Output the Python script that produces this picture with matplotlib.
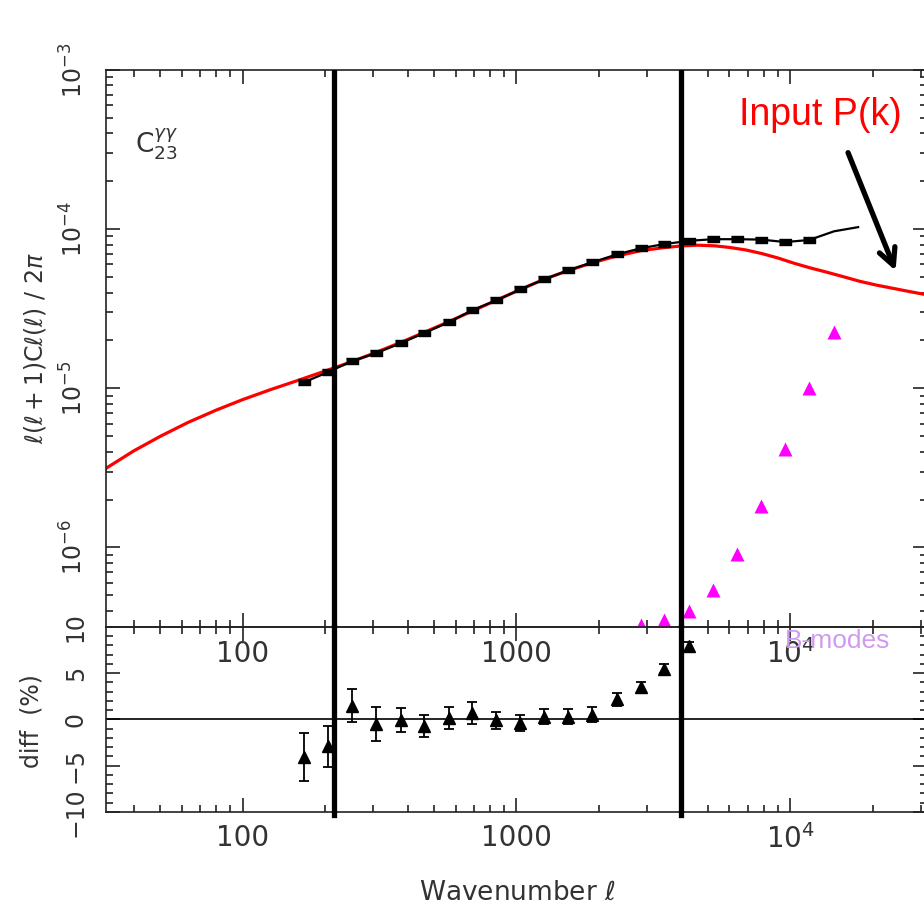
import numpy as np
import matplotlib
matplotlib.use("Agg")
import matplotlib.pyplot as plt
from matplotlib.ticker import LogLocator, MultipleLocator, NullFormatter

plt.rcParams['font.family'] = 'DejaVu Sans'
plt.rcParams['mathtext.fontset'] = 'dejavusans'

# log-spaced multipole bins
ell_bins = [167, 204, 250, 306, 377, 458, 565, 690, 845, 1034, 1265, 1549,
            1893, 2337, 2860, 3470, 4276, 5236, 6409, 7839, 9590, 11730, 14480, 17720]

# measured l(l+1)C_l/2pi, black
cl_meas = [1.09e-5, 1.26e-5, 1.48e-5, 1.66e-5, 1.92e-5, 2.22e-5, 2.60e-5, 3.10e-5,
           3.57e-5, 4.19e-5, 4.85e-5, 5.52e-5, 6.19e-5, 6.96e-5, 7.60e-5, 8.06e-5,
           8.45e-5, 8.65e-5, 8.65e-5, 8.60e-5, 8.30e-5, 8.55e-5, 9.70e-5, 1.03e-4]

# input P(k) prediction, red
ell_theory = [31.6, 40, 50, 63, 80, 100, 126, 160, 204, 250, 306, 377, 458, 565,
              690, 845, 1034, 1265, 1549, 1893, 2337, 2860, 3470, 4000, 4600, 5300,
              6000, 6900, 7900, 9000, 10300, 11800, 13600, 15700, 18000, 20700,
              23750, 27400, 31600]
cl_theory = [3.14e-6, 4.05e-6, 5.0e-6, 6.1e-6, 7.3e-6, 8.5e-6, 9.8e-6, 1.125e-5,
             1.30e-5, 1.47e-5, 1.68e-5, 1.94e-5, 2.24e-5, 2.62e-5, 3.06e-5, 3.58e-5,
             4.18e-5, 4.85e-5, 5.5e-5, 6.15e-5, 6.8e-5, 7.34e-5, 7.66e-5, 7.85e-5,
             7.93e-5, 7.86e-5, 7.68e-5, 7.4e-5, 7.02e-5, 6.6e-5, 6.12e-5, 5.72e-5,
             5.37e-5, 5.02e-5, 4.7e-5, 4.45e-5, 4.25e-5, 4.05e-5, 3.87e-5]

# B-mode power in the same bins
ell_bmode = [2860, 3470, 4276, 5236, 6409, 7839, 9590, 11730, 14480]
cl_bmode = [3.28e-7, 3.48e-7, 3.96e-7, 5.44e-7, 9.04e-7, 1.81e-6, 4.13e-6, 1.01e-5, 2.25e-5]

# percentage difference measured vs input
ell_diff = ell_bins[:17]
diff_val = [-4.1, -2.9, 1.5, -0.5, -0.1, -0.7, 0.2, 0.7, -0.1, -0.4, 0.3, 0.3, 0.5,
            2.2, 3.5, 5.5, 7.9]
diff_err = [2.6, 2.2, 1.8, 1.8, 1.3, 1.2, 1.2, 1.2, 0.9, 0.9, 0.8, 0.8, 0.8,
            0.7, 0.6, 0.5, 0.5]

ell_cuts = [215, 4000]

tick_col = '#333333'
dash = [(-1, -0.5), (1, -0.5), (1, 0.5), (-1, 0.5)]

fig = plt.figure(figsize=(9.24, 9.06), dpi=100)
ax1 = fig.add_axes([0.1147, 0.3079, 0.8885, 0.6148])
ax2 = fig.add_axes([0.1147, 0.1038, 0.8885, 0.2042])
ax2.set_facecolor('none')

# --- top panel ---
ax1.plot(ell_theory, cl_theory, color='red', lw=2.3, zorder=2)
ax1.plot(ell_bins, cl_meas, color='black', lw=1.6, zorder=3)
ax1.plot(ell_bins[:22], cl_meas[:22], ls='none', marker=dash, ms=8,
         color='black', zorder=3)
ax1.plot(ell_bmode, cl_bmode, ls='none', marker='^', ms=10, color='#ff00ff',
         mec='none', zorder=3)
ax1.set_xscale('log')
ax1.set_yscale('log')
ax1.set_xlim(10**1.5, 10**4.5)
ax1.set_ylim(10**-6.5, 1e-3)

for xc in ell_cuts:
    ax1.axvline(xc, ymin=0, ymax=0.996, color='black', lw=3.8, zorder=4)
    ax2.axvline(xc, ymin=-0.015, ymax=1, color='black', lw=3.8, zorder=4,
                clip_on=False)

ax1.text(0.035, 0.867, r'$\mathrm{C}^{\gamma\gamma}_{23}$', transform=ax1.transAxes,
         fontsize=19, color=tick_col, ha='left', va='center')

ax1.text(12860, 5.21e-4, 'Input P(k)', color='red', fontsize=27,
         family='Liberation Sans', ha='center', va='center')
ax1.annotate('', xy=(24500, 5.28e-5), xytext=(16140, 3.14e-4),
             arrowprops=dict(arrowstyle='->,head_length=1.2,head_width=0.6',
                             lw=3.8, color='black'))

# --- bottom panel ---
ax2.axhline(0, color='black', lw=1.2)
ax2.errorbar(ell_diff, diff_val, yerr=diff_err, fmt='^', color='black',
             ms=8, elinewidth=1.3, capsize=3.5, capthick=1.3)
ax2.set_xscale('log')
ax2.set_xlim(10**1.5, 10**4.5)
ax2.set_ylim(-10, 10)
ax2.yaxis.set_major_locator(MultipleLocator(5))
ax2.yaxis.set_minor_locator(MultipleLocator(1))

ax2.text(9600, 8.5, 'B-modes', color='#d09af0', fontsize=19,
         family='Liberation Sans', ha='left', va='center', clip_on=False)

for ax in (ax1, ax2):
    ax.set_xticks([100, 1000, 10000])
    ax.set_xticklabels(['100', '1000', r'$10^4$'])
    ax.xaxis.set_minor_locator(LogLocator(base=10, subs=np.arange(2, 10)))
    ax.xaxis.set_minor_formatter(NullFormatter())
    ax.tick_params(which='both', direction='in', top=True, right=True,
                   width=1.2, color='#222222')
    ax.tick_params(which='major', length=10)
    ax.tick_params(which='minor', length=5)
    ax.tick_params(axis='x', labelsize=20, labelcolor=tick_col, pad=9)
    ax.tick_params(axis='y', labelsize=17, labelcolor=tick_col, pad=13,
                   labelrotation=90)
    for s in ax.spines.values():
        s.set_linewidth(1.2)
        s.set_color('#222222')
    for lab in ax.get_yticklabels():
        lab.set_va('center')

ax1.set_yticks([1e-6, 1e-5, 1e-4, 1e-3])

fig.text(35 / 924, 1 - 348 / 906, r'$\ell(\ell+1)\mathrm{C}\ell(\ell)\ /\ 2\pi$',
         rotation=90, ha='center', va='center', fontsize=17, color=tick_col)
fig.text(31 / 924, 1 - 721 / 906, 'diff  (%)', rotation=90, ha='center',
         va='center', fontsize=17, color=tick_col)
fig.text(517 / 924, 1 - 893 / 906, r'Wavenumber $\ell$', ha='center',
         va='center', fontsize=19, color=tick_col)

fig.savefig('out.png', dpi=100)
